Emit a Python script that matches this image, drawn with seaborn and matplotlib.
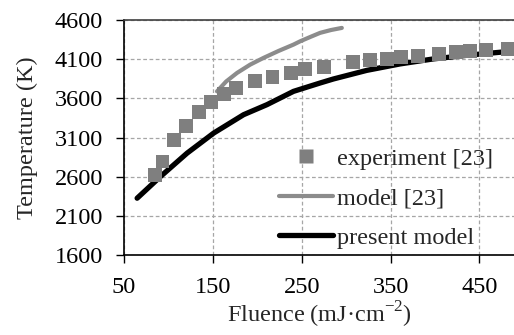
import matplotlib
matplotlib.use("Agg")
import matplotlib.pyplot as plt
import seaborn as sns
import pandas as pd
from matplotlib.lines import Line2D

exp_x = [84.6, 93.3, 106.4, 120.2, 134.5, 148, 162.1, 176.4, 197, 217.2, 238.2, 254,
         275.3, 307.5, 327, 346.4, 361.5, 380.6, 404.5, 423.6, 439.3, 457.3, 482.4]
exp_y = [2623, 2793, 3071, 3250, 3420, 3557, 3659, 3732, 3817, 3868, 3924, 3970,
         3996, 4060, 4086, 4107, 4124, 4137, 4171, 4188, 4200, 4213, 4231]

m23_x = [154.7, 165, 177.2, 192, 207, 224, 240.8, 248.3, 260, 270.8, 283, 295.2]
m23_y = [3689, 3815, 3924, 4030, 4116, 4205, 4286, 4328, 4385, 4436, 4472, 4499]

pm_x = [64.8, 91, 121, 150.9, 184.6, 210.9, 240.8, 270.8, 285.7, 323.3, 360.7,
        398.1, 435.6, 473, 489.5]
pm_y = [2325, 2601, 2900, 3156, 3391, 3519, 3689, 3796, 3847, 3957, 4039,
        4103, 4149, 4188, 4209]

labels = ["experiment [23]", "model [23]", "present model"]
xticks = [50, 150, 250, 350, 450]
yticks = [1600, 2100, 2600, 3100, 3600, 4100, 4600]

sns.set_style("ticks")
plt.rcParams["font.family"] = ["Liberation Serif", "DejaVu Serif"]
plt.rcParams["mathtext.fontset"] = "custom"
plt.rcParams["mathtext.rm"] = "Liberation Serif"

FS = 17.5

fig = plt.figure(figsize=(5.14, 3.35), dpi=100)
ax = fig.add_axes([0.2412, 0.2388, 0.7588, 0.7015])

df_exp = pd.DataFrame({"x": exp_x, "y": exp_y})
df_m23 = pd.DataFrame({"x": m23_x, "y": m23_y})
df_pm = pd.DataFrame({"x": pm_x, "y": pm_y})

sns.lineplot(data=df_m23, x="x", y="y", ax=ax, color="#8c8c8c", lw=3.0,
             solid_capstyle="round", sort=False, zorder=3)
sns.lineplot(data=df_pm, x="x", y="y", ax=ax, color="black", lw=3.8,
             solid_capstyle="round", sort=False, zorder=4)
sns.scatterplot(data=df_exp, x="x", y="y", ax=ax, marker="s", s=100,
                color="#7f7f7f", edgecolor="none", linewidth=0, zorder=5)

ax.set_xlim(50, 489)
ax.set_ylim(1600, 4600)
ax.set_xticks(xticks)
ax.set_yticks(yticks)
ax.tick_params(labelsize=FS, length=6, width=1, direction="out", colors="black")
ax.tick_params(axis="y", pad=9)
ax.tick_params(axis="x", pad=10)
ax.grid(True, color="#a6a6a6", ls=(0, (3, 2)), lw=0.9)
ax.set_axisbelow(True)
for s in ["left", "bottom"]:
    ax.spines[s].set_color("black")
    ax.spines[s].set_linewidth(1.2)
ax.spines["top"].set_visible(True)
ax.spines["top"].set_color("#404040")
ax.spines["top"].set_linewidth(1.2)
ax.spines["right"].set_visible(False)

ax.set_xlabel(r"Fluence (mJ·cm$^{\mathregular{-2}}$)", fontsize=FS, labelpad=1)
ax.set_ylabel("Temperature (K)", fontsize=FS, labelpad=12)

handles = [
    Line2D([], [], ls="none", marker="s", ms=10, color="#7f7f7f", mec="none"),
    Line2D([], [], color="#8c8c8c", lw=3.0, solid_capstyle="round"),
    Line2D([], [], color="black", lw=3.8, solid_capstyle="round"),
]
ax.legend(handles, labels, loc="lower right", frameon=False, fontsize=FS,
          handlelength=2.2, handletextpad=0.15, labelspacing=0.72,
          borderaxespad=0.0, bbox_to_anchor=(0.97, -0.015))

fig.savefig("out.png", dpi=100)
